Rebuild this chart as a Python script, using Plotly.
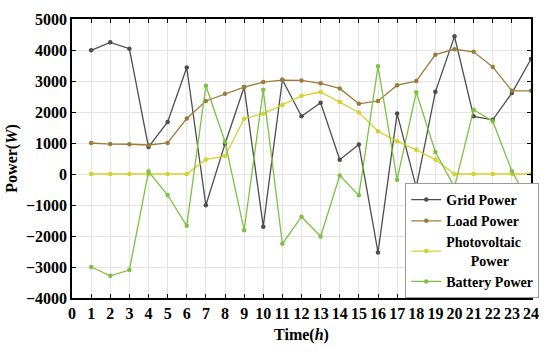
import plotly.graph_objects as go

hours = list(range(1, 25))
grid_power = [3990, 4246, 4043, 870, 1680, 3435, -1010, 970, 2805, -1700,
              3040, 1860, 2300, 460, 955, -2530, 1950, -430, 2650, 4440,
              1860, 1746, 2610, 3710]
load_power = [1000, 965, 960, 935, 1000, 1790, 2356, 2590, 2800, 2966,
              3030, 3017, 2926, 2760, 2264, 2356, 2865, 2996, 3850, 4024,
              3942, 3454, 2682, 2682]
pv_power = [0, 0, 0, 0, 0, 0, 470, 578, 1784, 1945,
            2228, 2523, 2644, 2319, 1985, 1377, 1055, 781, 465, 0,
            0, 0, 0, 0]
battery_power = [-3000, -3283, -3100, 80, -678, -1672, 2848, 1040, -1814, 2714,
                 -2250, -1378, -2016, -51, -689, 3474, -182, 2635, 708, -425,
                 2076, 1702, 91, -1024]

x_ticks = list(range(0, 25))
y_ticks = list(range(-4000, 5001, 1000))

series = [
    ("Grid Power", grid_power, "#4d4d4d"),
    ("Load Power", load_power, "#9c7c3a"),
    ("Photovoltaic<br>\u00a0\u00a0\u00a0\u00a0\u00a0\u00a0\u00a0Power", pv_power, "#d4d22c"),
    ("Battery Power", battery_power, "#7cc142"),
]

fig = go.Figure()
for name, vals, color in series:
    fig.add_trace(go.Scatter(
        x=hours, y=vals, name=name, mode="lines+markers",
        line=dict(color=color, width=1.3),
        marker=dict(color=color, size=4.5),
    ))

font_family = "Liberation Serif"
fig.update_layout(
    width=550, height=352,
    margin=dict(l=70, r=13, t=11, b=46),
    paper_bgcolor="white", plot_bgcolor="white",
    font=dict(family=font_family, size=16, color="black", weight="bold"),
    showlegend=True,
    legend=dict(
        x=1.018, xanchor="right", y=0.0, yanchor="bottom",
        bgcolor="white", bordercolor="#999999", borderwidth=1,
        font=dict(family=font_family, size=14, color="black", weight="bold"),
        tracegroupgap=0, itemwidth=30,
    ),
    xaxis=dict(
        range=[0, 24], tickmode="array", tickvals=x_ticks,
        ticktext=[str(t) for t in x_ticks],
        showgrid=True, gridcolor="#e4e4e4", gridwidth=1,
        showline=True, linecolor="black", linewidth=1.5, mirror="ticks",
        ticks="inside", ticklen=4, tickcolor="black",
        tickfont=dict(family=font_family, size=16, weight="bold"),
        zeroline=False,
        title=dict(text="Time(<i>h</i>)", standoff=8,
                   font=dict(family=font_family, size=16, weight="bold")),
    ),
    yaxis=dict(
        range=[-4000, 5000], tickmode="array", tickvals=y_ticks,
        showgrid=True, gridcolor="#e4e4e4", gridwidth=1,
        showline=True, linecolor="black", linewidth=1.5, mirror="ticks",
        ticks="inside", ticklen=4, tickcolor="black",
        tickfont=dict(family=font_family, size=16, weight="bold"),
        zeroline=False,
        title=dict(text="Power(<i>W</i>)", standoff=4,
                   font=dict(family=font_family, size=16, weight="bold")),
    ),
)

fig.write_html("out.html", config={"displayModeBar": False},
               post_script="document.body.style.margin='0';")
